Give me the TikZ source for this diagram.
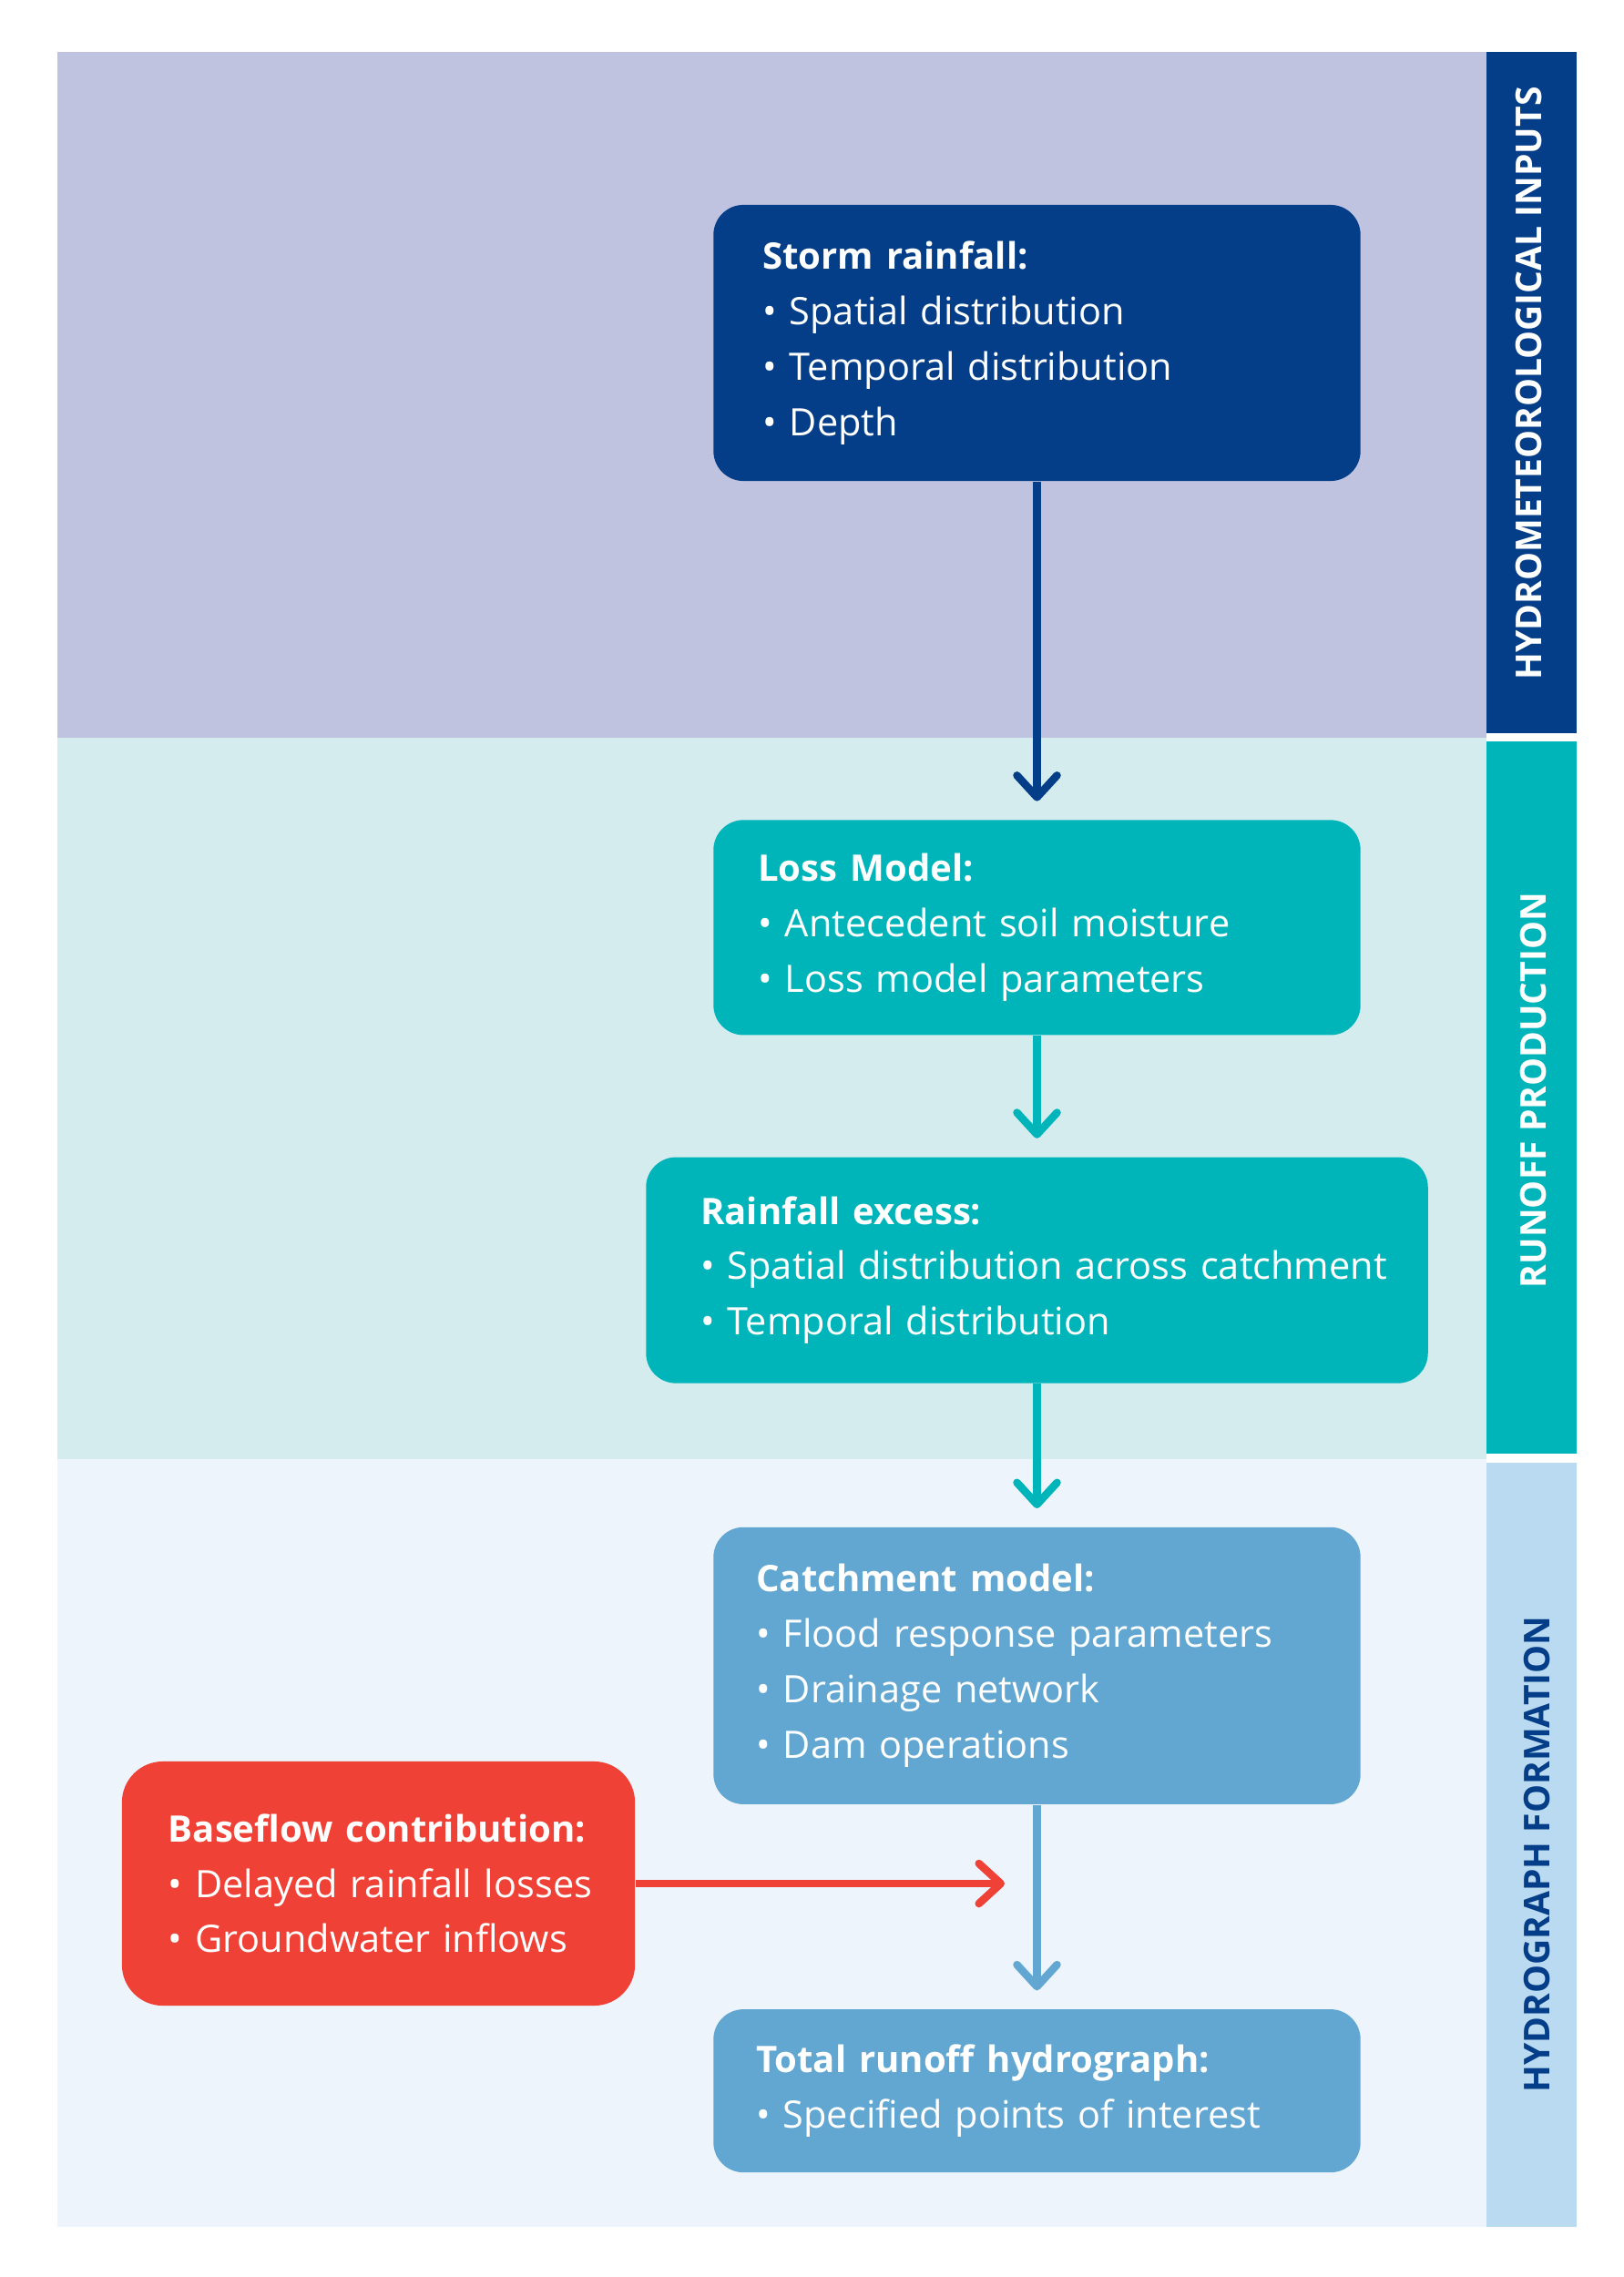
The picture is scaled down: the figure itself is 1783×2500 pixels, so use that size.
\documentclass[tikz,border=0pt]{standalone}
\usepackage{fontspec}
\setmainfont{Open Sans}
\usetikzlibrary{positioning, arrows.meta}
\definecolor{cBandA}{RGB}{191,195,223}
\definecolor{cDeep}{RGB}{4,62,136}
\definecolor{cBandB}{RGB}{212,236,237}
\definecolor{cTeal}{RGB}{0,181,186}
\definecolor{cBandC}{RGB}{237,244,251}
\definecolor{cSky}{RGB}{186,218,241}
\definecolor{cBlue}{RGB}{98,167,210}
\definecolor{cRed}{RGB}{239,65,54}
\newcommand{\dotitem}[1]{\mbox{\textbullet\ #1}}
\newcommand{\boxhead}[1]{\mbox{\bfseries\fontsize{11.4}{17.3}\selectfont #1}}

\begin{document}
\begin{tikzpicture}[x=0.01cm, y=-0.01cm, on grid,
    box/.style={rounded corners=0.33cm, text=white, align=left, inner ysep=0pt,
        font=\fontsize{11.8}{17.3}\selectfont},
    band/.style={rotate=90, font=\bfseries\fontsize{11.1}{14}\selectfont},
    flow/.style={-{Straight Barb[length=0.24cm, width=0.44cm, round]}, line width=0.085cm, shorten >=0.2cm}]
    \useasboundingbox (0,0) rectangle (1783,2500);

    % stage bands
    \fill[cBandA] (63,57) rectangle (1632,810);
    \fill[cBandB] (63,810) rectangle (1632,1602);
    \fill[cBandC] (63,1602) rectangle (1632,2445);
    \fill[cDeep] (1632,57) rectangle (1731,805);
    \fill[cTeal] (1632,814) rectangle (1731,1596);
    \fill[cSky] (1632,1606) rectangle (1731,2445);
    \node[band, text=white] (lblA) at (1679,421) {HYDROMETEOROLOGICAL INPUTS};
    \node[band, text=white] (lblB) at (1684,1197) {RUNOFF PRODUCTION};
    \node[band, text=cDeep] (lblC) at (1688,2036) {HYDROGRAPH FORMATION};

    % boxes
    \node[box, fill=cDeep, minimum width=7.1cm, minimum height=3.03cm, text width=6.02cm, inner xsep=0.54cm] (storm) at (1138.5,376.5)
        {\boxhead{Storm rainfall:}\\ \dotitem{Spatial distribution}\\ \dotitem{Temporal distribution}\\ \dotitem{Depth}};
    \node[box, fill=cTeal, minimum width=7.1cm, minimum height=2.36cm, text width=6.12cm, inner xsep=0.49cm] (loss) [below=6.415cm of storm]
        {\boxhead{Loss Model:}\\ \dotitem{Antecedent soil moisture}\\ \dotitem{Loss model parameters}};
    \node[box, fill=cTeal, minimum width=8.58cm, minimum height=2.48cm, text width=7.38cm, inner xsep=0.6cm] (excess) [below=3.76cm of loss]
        {\boxhead{Rainfall excess:}\\ \dotitem{Spatial distribution across catchment}\\ \dotitem{Temporal distribution}};
    \node[box, fill=cBlue, minimum width=7.1cm, minimum height=3.04cm, text width=6.16cm, inner xsep=0.47cm] (catch) [below=4.34cm of excess]
        {\boxhead{Catchment model:}\\ \dotitem{Flood response parameters}\\ \dotitem{Drainage network}\\ \dotitem{Dam operations}};
    \node[box, fill=cBlue, minimum width=7.1cm, minimum height=1.79cm, text width=6.16cm, inner xsep=0.47cm] (total) [below=4.665cm of catch]
        {\boxhead{Total runoff hydrograph:}\\ \dotitem{Specified points of interest}};
    \node[box, fill=cRed, rounded corners=0.45cm, minimum width=5.63cm, minimum height=2.68cm, text width=4.61cm, inner xsep=0.51cm] (baseflow) at (415.5,2068)
        {\boxhead{Baseflow contribution:}\\ \dotitem{Delayed rainfall losses}\\ \dotitem{Groundwater inflows}};
    \coordinate (mergept) at (1103,2068);

    \draw[flow, cDeep] (storm) -- (loss);
    \draw[flow, cTeal] (loss) -- (excess);
    \draw[flow, cTeal] (excess) -- (catch);
    \draw[flow, cBlue] (catch) -- (total);
    \draw[flow, cRed, shorten >=0pt] (baseflow) -- (mergept);
\end{tikzpicture}
\end{document}
